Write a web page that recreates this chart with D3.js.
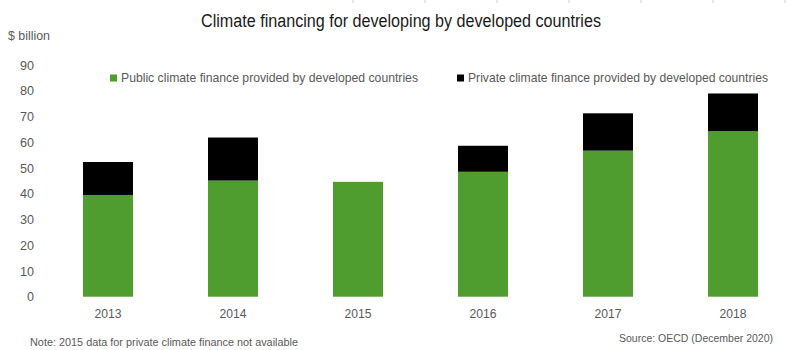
<!DOCTYPE html>
<html><head><meta charset="utf-8">
<script src="https://cdn.jsdelivr.net/npm/d3@7"></script>
<style>
body{margin:0;background:#fff;}
text{font-family:"Liberation Sans",Arial,sans-serif;}
</style></head>
<body><svg id="c" width="793" height="350"></svg>
<script>
const years = ["2013","2014","2015","2016","2017","2018"];
const publicFinance = [39.5, 45.1, 44.6, 48.5, 56.7, 64.3];
const privateFinance = [12.8, 16.7, 0, 10.1, 14.5, 14.6];
const yTicks = [0,10,20,30,40,50,60,70,80,90];
const seriesNames = ["Public climate finance provided by developed countries","Private climate finance provided by developed countries"];
const colors = ["#4f9c2f","#000000"];

const svg = d3.select("#c");
const x = d3.scaleBand().domain(years).range([45.5,795.5]).paddingInner(0.6).paddingOuter(0.3);
const y = d3.scaleLinear().domain([0,90]).range([296.7,64.9]);

function fit(sel, w){ sel.attr("textLength",w).attr("lengthAdjust","spacingAndGlyphs"); return sel; }

// faint top ticks (decoration)
svg.append("g").selectAll("line").data(d3.range(7)).join("line")
  .attr("x1",d=>353+d*72).attr("x2",d=>353+d*72).attr("y1",0).attr("y2",3)
  .attr("stroke","#d0d0d0").attr("stroke-width",1);

fit(svg.append("text").attr("x",201).attr("y",27).attr("font-size",18).attr("fill","#1a1a1a")
  .text("Climate financing for developing by developed countries"),400);
fit(svg.append("text").attr("x",8).attr("y",40).attr("font-size",13).attr("fill","#595959").text("$ billion"),42);

const rows = years.map((yr,i)=>({year:yr, pub:publicFinance[i], priv:privateFinance[i]}));
const stack = d3.stack().keys(["pub","priv"])(rows);
svg.append("g").selectAll("g").data(stack).join("g").attr("fill",(d,i)=>colors[i])
  .selectAll("rect").data(d=>d.filter(s=>s[1]-s[0]>0)).join("rect")
  .attr("x",d=>x(d.data.year)).attr("width",x.bandwidth())
  .attr("y",d=>y(d[1])).attr("height",d=>y(d[0])-y(d[1]));

const ya = d3.axisLeft(y).tickValues(yTicks).tickSize(0).tickPadding(0);
const gy = svg.append("g").attr("transform","translate(34,0)").call(ya);
gy.select(".domain").remove();
gy.selectAll("text").attr("font-size",13).attr("fill","#595959").attr("font-family",null)
  .attr("textLength",d=>d===0?7:14).attr("lengthAdjust","spacingAndGlyphs");

const xa = d3.axisBottom(x).tickSize(0).tickPadding(0);
const gx = svg.append("g").attr("transform","translate(0,309)").call(xa);
gx.select(".domain").remove();
gx.selectAll("text").attr("font-size",13).attr("fill","#595959").attr("font-family",null)
  .attr("textLength",27).attr("lengthAdjust","spacingAndGlyphs");

// legend
const lg = [{x:110,w:297},{x:457,w:300}];
seriesNames.forEach((n,i)=>{
  svg.append("rect").attr("x",lg[i].x).attr("y",74.5).attr("width",7).attr("height",7).attr("fill",colors[i]);
  fit(svg.append("text").attr("x",lg[i].x+11).attr("y",82).attr("font-size",13).attr("fill","#595959").text(n),lg[i].w);
});

fit(svg.append("text").attr("x",30).attr("y",346).attr("font-size",11.5).attr("fill","#595959")
  .text("Note: 2015 data for private climate finance not available"),268);
fit(svg.append("text").attr("x",619).attr("y",342).attr("font-size",11.5).attr("fill","#595959")
  .text("Source: OECD (December 2020)"),154);
</script></body></html>
